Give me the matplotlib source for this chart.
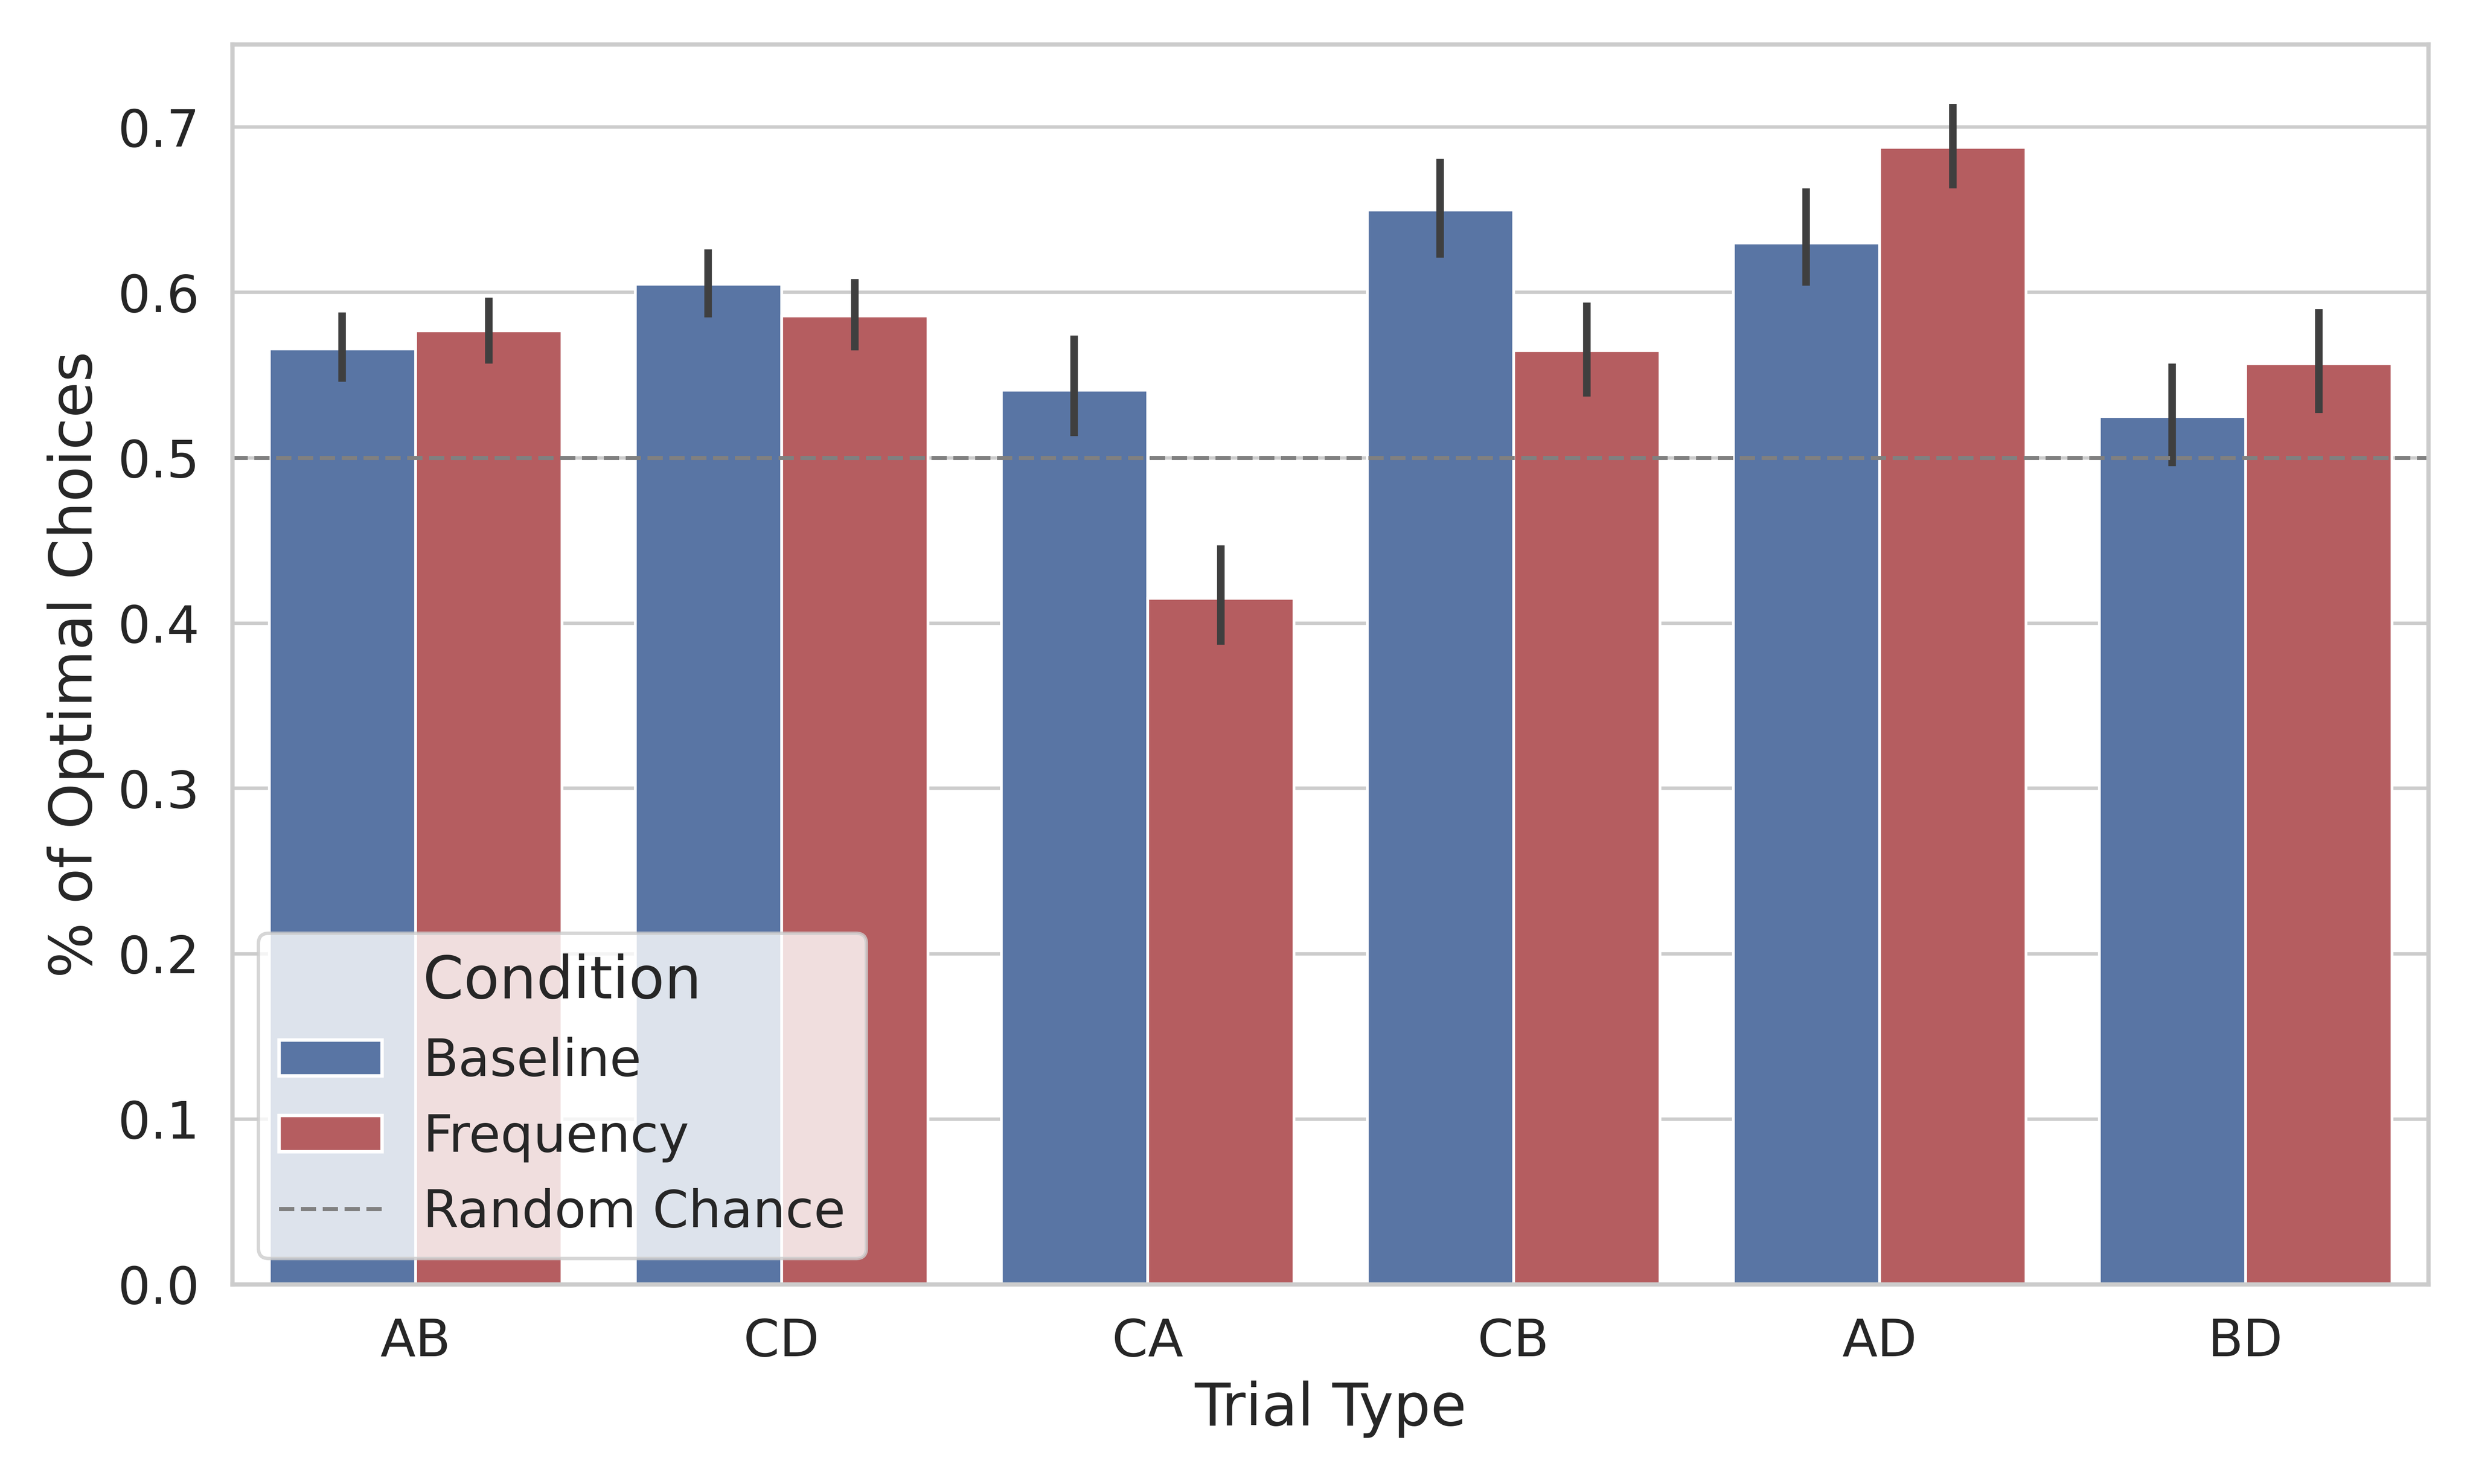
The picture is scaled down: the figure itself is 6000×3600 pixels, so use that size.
import numpy as np
import matplotlib
matplotlib.use("Agg")
import matplotlib.pyplot as plt
import seaborn as sns
from matplotlib.patches import Patch
from matplotlib.lines import Line2D

sns.set_theme(style="whitegrid")

trial_types = ["AB", "CD", "CA", "CB", "AD", "BD"]
baseline = [0.566, 0.605, 0.541, 0.650, 0.630, 0.525]
baseline_lo = [0.546, 0.585, 0.513, 0.621, 0.604, 0.495]
baseline_hi = [0.588, 0.626, 0.574, 0.681, 0.663, 0.557]
frequency = [0.577, 0.586, 0.415, 0.565, 0.688, 0.557]
frequency_lo = [0.557, 0.565, 0.387, 0.537, 0.663, 0.527]
frequency_hi = [0.597, 0.608, 0.447, 0.594, 0.714, 0.590]

deep = sns.color_palette("deep")
blue = sns.desaturate(deep[0], 0.75)
red = sns.desaturate(deep[3], 0.75)

fig, ax = plt.subplots(figsize=(10, 6))
x = np.arange(len(trial_types))
w = 0.4
ax.bar(x - w / 2, baseline, w, color=blue, edgecolor="white", linewidth=0.8)
ax.bar(x + w / 2, frequency, w, color=red, edgecolor="white", linewidth=0.8)
ax.vlines(x - w / 2, baseline_lo, baseline_hi, color="#3f3f3f", lw=2.2)
ax.vlines(x + w / 2, frequency_lo, frequency_hi, color="#3f3f3f", lw=2.2)
ax.axhline(0.5, color="gray", linestyle="--", lw=1.2)

ax.set_xticks(x)
ax.set_xticklabels(trial_types)
ax.set_xlim(-0.5, len(trial_types) - 0.5)
ax.set_ylim(0, 0.75)
ax.set_yticks(np.arange(0, 0.71, 0.1))
ax.tick_params(labelsize=15)
ax.set_xlabel("Trial Type", fontsize=17)
ax.set_ylabel("% of Optimal Choices", fontsize=17)
ax.xaxis.grid(False)

handles = [Patch(facecolor=blue, edgecolor="white"),
           Patch(facecolor=red, edgecolor="white"),
           Line2D([0], [0], color="gray", linestyle="--", lw=1.2)]
ax.legend(handles, ["Baseline", "Frequency", "Random Chance"], title="Condition",
          loc="lower left", fontsize=15, title_fontsize=17, framealpha=0.8)

fig.tight_layout()
fig.savefig("out.png", dpi=600)
